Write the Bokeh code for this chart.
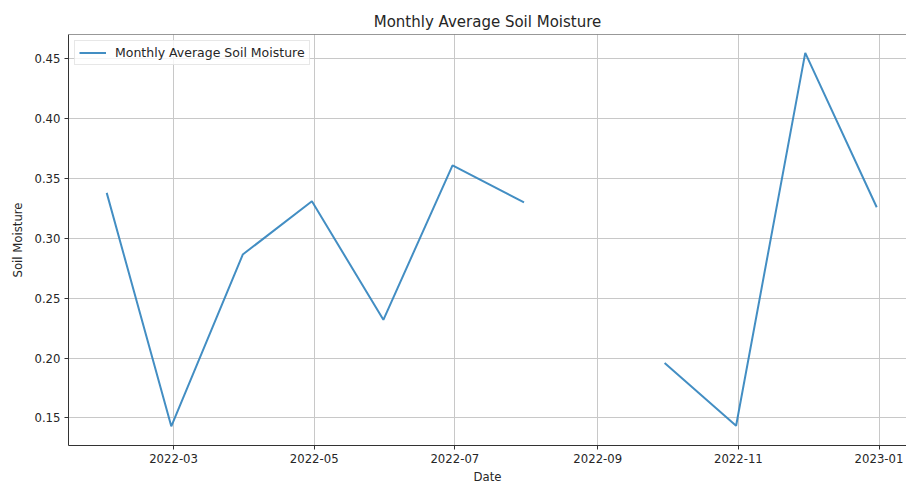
import math
from datetime import datetime
import pandas as pd
from bokeh.plotting import figure
from bokeh.models import (Range1d, FixedTicker, DatetimeTickFormatter, Span,
                          Legend, LegendItem, ColumnDataSource, PrintfTickFormatter)
from bokeh.embed import file_html
from bokeh.resources import INLINE

# ---- data ----
dates = ["2022-01-31", "2022-02-28", "2022-03-31", "2022-04-30", "2022-05-31",
         "2022-06-30", "2022-07-31", "2022-08-31", "2022-09-30", "2022-10-31",
         "2022-11-30", "2022-12-31"]
moisture = [0.338, 0.143, 0.2865, 0.331, 0.232, 0.361, 0.330, math.nan,
            0.196, 0.1435, 0.455, 0.326]
x_tick_dates = ["2022-03-01", "2022-05-01", "2022-07-01", "2022-09-01",
                "2022-11-01", "2023-01-01"]
y_ticks = [0.15, 0.20, 0.25, 0.30, 0.35, 0.40, 0.45]

FONT = "DejaVu Sans"
TXT = "#262626"

src = ColumnDataSource(dict(date=pd.to_datetime(dates), value=moisture))

p = figure(
    x_axis_type="datetime",
    frame_width=838, frame_height=411,
    min_border_left=68, min_border_right=0, min_border_top=34, min_border_bottom=30,
    x_range=Range1d(datetime(2022, 1, 14, 10), datetime(2023, 1, 12, 22)),
    y_range=Range1d(0.127, 0.4703),
    output_backend="svg", toolbar_location=None,
    title="Monthly Average Soil Moisture",
)
p.outline_line_color = None
p.background_fill_color = "white"
p.border_fill_color = "white"

p.title.align = "center"
p.title.text_font = FONT
p.title.text_font_size = "15px"
p.title.text_font_style = "normal"
p.title.text_color = TXT
p.title.standoff = 8

tick_ms = [pd.Timestamp(d).value / 1e6 for d in x_tick_dates]
p.xaxis.ticker = FixedTicker(ticks=tick_ms)
fmt = "%Y-%m"
p.xaxis.formatter = DatetimeTickFormatter(months=fmt, days=fmt, years=fmt,
                                          hours=fmt, minutes=fmt)
p.yaxis.ticker = FixedTicker(ticks=y_ticks)
p.yaxis.formatter = PrintfTickFormatter(format="%.2f")

p.xaxis.axis_label = "Date"
p.yaxis.axis_label = "Soil Moisture"

for ax in (p.xaxis, p.yaxis):
    ax.axis_line_color = "#333333"
    ax.axis_line_width = 1
    ax.major_tick_line_color = "#333333"
    ax.major_tick_out = 4
    ax.major_tick_in = 0
    ax.minor_tick_line_color = None
    ax.major_label_text_font = FONT
    ax.major_label_text_font_size = "11.7px"
    ax.major_label_text_color = TXT
    ax.axis_label_text_font = FONT
    ax.axis_label_text_font_size = "11.7px"
    ax.axis_label_text_font_style = "normal"
    ax.axis_label_text_color = TXT
    ax.major_label_standoff = 4
p.xaxis.axis_label_standoff = 4
p.yaxis.axis_label_standoff = 6

p.xgrid.grid_line_color = "#c8c8c8"
p.ygrid.grid_line_color = "#c8c8c8"
p.xgrid.grid_line_width = 1
p.ygrid.grid_line_width = 1

# top spine
p.add_layout(Span(location=0.4703, dimension="width", line_color="#333333",
                  line_width=1))

r = p.line("date", "value", source=src, line_color="#2f82bd", line_alpha=0.9,
           line_width=2)

legend = Legend(items=[LegendItem(label="Monthly Average Soil Moisture", renderers=[r])],
                location="top_left")
legend.margin = 6
legend.padding = 4
legend.spacing = 0
legend.glyph_width = 27
legend.glyph_height = 15
legend.label_standoff = 9
legend.label_height = 15
legend.label_text_font = FONT
legend.label_text_font_size = "12.5px"
legend.label_text_color = TXT
legend.border_line_color = "#d0d0d0"
legend.border_line_width = 1
legend.background_fill_color = "white"
legend.background_fill_alpha = 0.8
p.add_layout(legend)

open("out.html", "w").write(file_html(p, INLINE))
